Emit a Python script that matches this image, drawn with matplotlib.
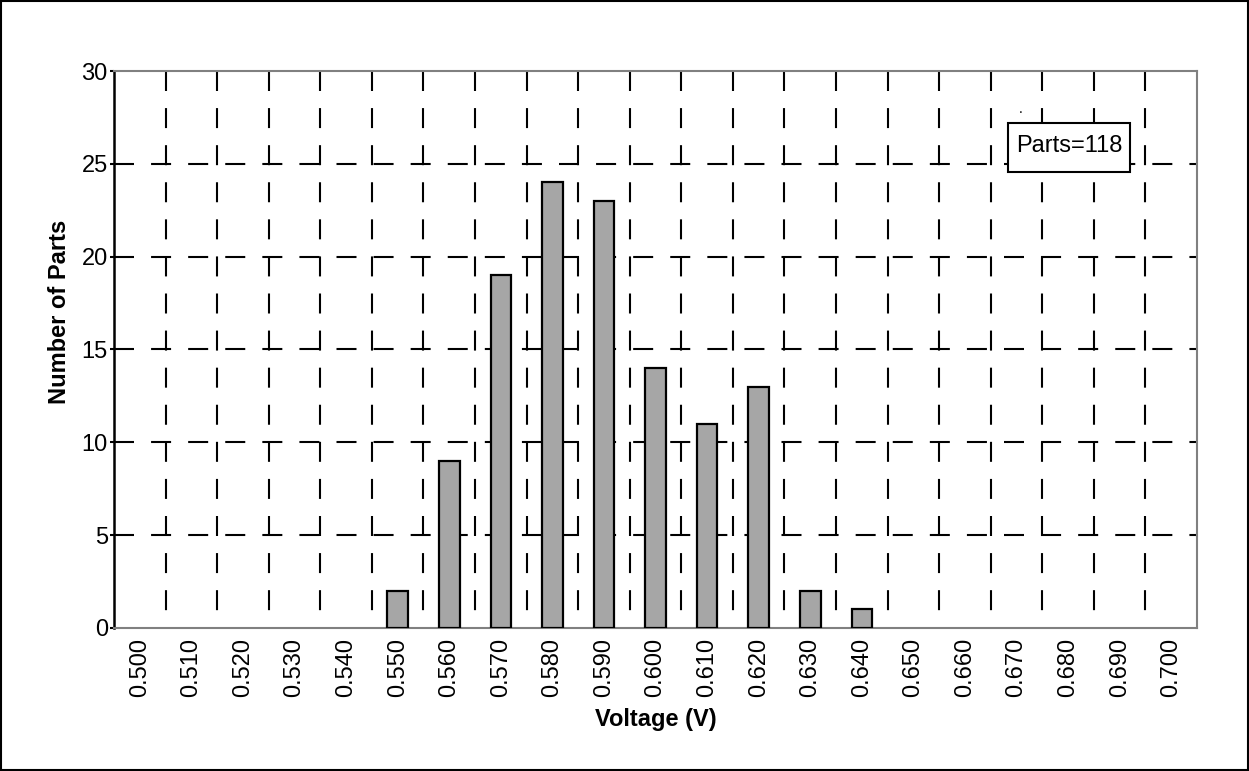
import matplotlib
matplotlib.use("Agg")
import matplotlib.pyplot as plt
from matplotlib.patches import Rectangle

plt.rcParams['font.family'] = ['Liberation Sans', 'DejaVu Sans']

voltages = ["0.500", "0.510", "0.520", "0.530", "0.540", "0.550", "0.560",
            "0.570", "0.580", "0.590", "0.600", "0.610", "0.620", "0.630",
            "0.640", "0.650", "0.660", "0.670", "0.680", "0.690", "0.700"]
counts = [0, 0, 0, 0, 0, 2, 9, 19, 24, 23, 14, 11, 13, 2, 1, 0, 0, 0, 0, 0, 0]
y_ticks = [0, 5, 10, 15, 20, 25, 30]
n_parts = sum(counts)

fs = 17
fig = plt.figure(figsize=(12.49, 7.71), dpi=100)
ax = fig.add_axes([0.0913, 0.1855, 0.8671, 0.7224])

x = list(range(len(voltages)))
bars = [(i, c) for i, c in zip(x, counts) if c > 0]
ax.bar([b[0] for b in bars], [b[1] for b in bars], width=0.4,
       color="#a6a6a6", edgecolor="black", linewidth=1.6, zorder=3)

# dashed grid: horizontal at y ticks, vertical between categories (drawn top-down)
dash = (9.6, 8.2)
for yv in y_ticks[1:-1]:
    ax.axhline(yv, color="black", lw=1.5, dashes=dash, zorder=1)
for i in range(len(voltages) - 1):
    ax.axvline(i + 0.5, ymin=1, ymax=0, color="black", lw=1.5, dashes=dash, zorder=1)

ax.set_xlim(-0.5, len(voltages) - 0.5)
ax.set_ylim(0, 30)
ax.set_yticks(y_ticks)
ax.set_xticks(x)
ax.set_xticklabels(voltages, rotation=90)
ax.tick_params(axis="x", length=0, pad=7, labelsize=fs)
ax.tick_params(axis="y", length=3, width=1.5, labelsize=fs, pad=1.5)

for side in ["top", "right", "bottom"]:
    ax.spines[side].set_color("#808080")
    ax.spines[side].set_linewidth(1.5)
ax.spines["left"].set_color("black")
ax.spines["left"].set_linewidth(1.8)

ax.set_xlabel("Voltage (V)", fontsize=fs, fontweight="bold", labelpad=8)
ax.set_ylabel("Number of Parts", fontsize=fs, fontweight="bold")
ax.yaxis.set_label_coords(-0.0397, 0.567)

# annotation box
ax.add_patch(Rectangle((18.02 - 1.185, 25.9 - 1.32), 2.37, 2.64, fc="white",
                       ec="black", lw=1.5, zorder=4))
ax.text(18.02, 25.95, "Parts=%d" % n_parts, fontsize=fs, ha="center", va="center", zorder=5)
ax.text(17.07, 27.6, ".", fontsize=10, ha="center", va="bottom", zorder=4)

fig.patches.append(Rectangle((0.0008, 0.0013), 0.9984, 0.9974, transform=fig.transFigure,
                             fill=False, ec="black", lw=1.5))

fig.savefig("out.png", dpi=100)
